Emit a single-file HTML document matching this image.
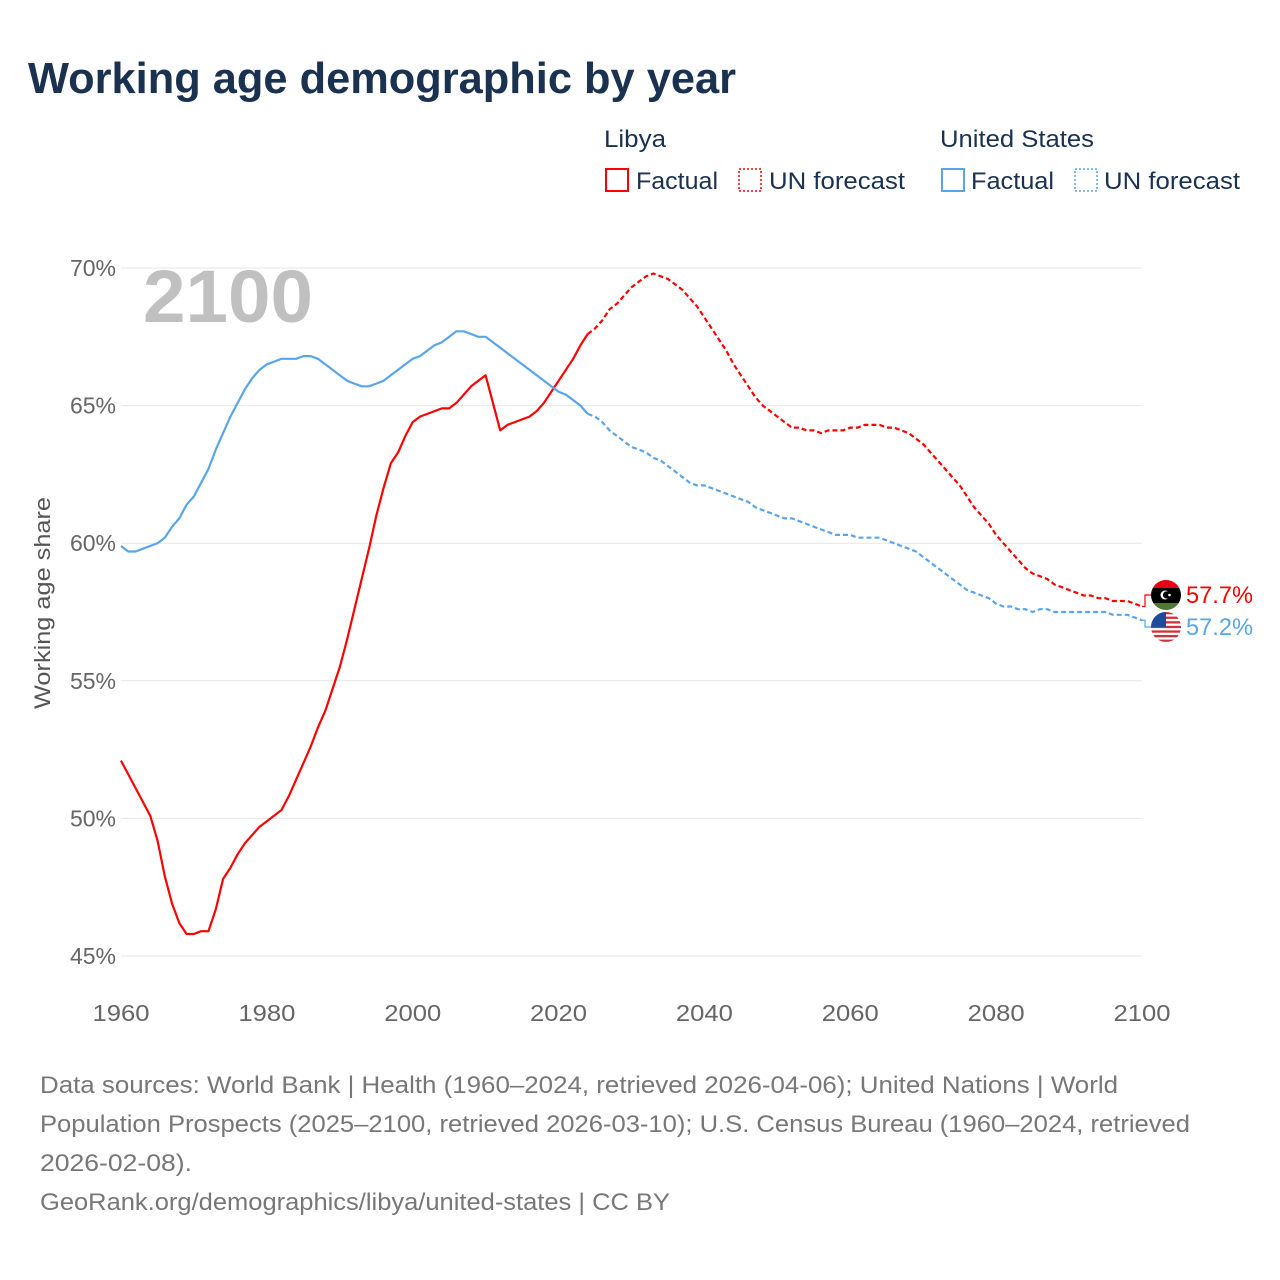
<!DOCTYPE html>
<html><head><meta charset="utf-8"><style>
body{margin:0;background:#fff;}
svg{display:block;font-family:"Liberation Sans",sans-serif;}
</style></head><body>
<svg id="chart" width="1280" height="1280" viewBox="0 0 1280 1280">
<rect width="1280" height="1280" fill="#fff"/>
<text x="28" y="93" font-size="44" font-weight="bold" fill="#1a3150" textLength="708" lengthAdjust="spacingAndGlyphs">Working age demographic by year</text>
<g font-size="24" fill="#1a3150">
<text x="604" y="147" textLength="62" lengthAdjust="spacingAndGlyphs">Libya</text>
<text x="940" y="147" textLength="154" lengthAdjust="spacingAndGlyphs">United States</text>
<g><rect x="606" y="169" width="22" height="22" fill="none" stroke="#f00" stroke-width="2"/><text x="636" y="189" textLength="82" lengthAdjust="spacingAndGlyphs">Factual</text></g>
<g><rect x="739" y="169" width="22" height="22" fill="none" stroke="#f00" stroke-width="1.5" stroke-dasharray="2,2"/><text x="769" y="189" textLength="136" lengthAdjust="spacingAndGlyphs">UN forecast</text></g>
<g><rect x="942" y="169" width="22" height="22" fill="none" stroke="#5aa5ea" stroke-width="2"/><text x="971" y="189" textLength="83" lengthAdjust="spacingAndGlyphs">Factual</text></g>
<g><rect x="1075" y="169" width="22" height="22" fill="none" stroke="#5aa5ea" stroke-width="1.5" stroke-dasharray="2,2"/><text x="1104" y="189" textLength="136" lengthAdjust="spacingAndGlyphs">UN forecast</text></g>
</g>
<g id="grid"></g>
<g id="yticks" font-size="23" fill="#666"></g>
<g id="xticks" font-size="23" fill="#666"></g>
<text x="143" y="322" font-size="74" font-weight="bold" fill="#c0c0c0" textLength="170" lengthAdjust="spacingAndGlyphs">2100</text>
<text transform="translate(50,603) rotate(-90)" text-anchor="middle" font-size="22" fill="#555" textLength="212" lengthAdjust="spacingAndGlyphs">Working age share</text>
<g id="series"></g>
<g id="footer" font-size="24" fill="#777">
<text x="40" y="1093" textLength="1078" lengthAdjust="spacingAndGlyphs">Data sources: World Bank | Health (1960–2024, retrieved 2026-04-06); United Nations | World</text>
<text x="40" y="1132" textLength="1150" lengthAdjust="spacingAndGlyphs">Population Prospects (2025–2100, retrieved 2026-03-10); U.S. Census Bureau (1960–2024, retrieved</text>
<text x="40" y="1171" textLength="152" lengthAdjust="spacingAndGlyphs">2026-02-08).</text>
<text x="40" y="1210" textLength="630" lengthAdjust="spacingAndGlyphs">GeoRank.org/demographics/libya/united-states | CC BY</text>
</g>
</svg>
<script>
const startYear = 1960;
const forecastStart = 2024;
const xTicks = [1960,1980,2000,2020,2040,2060,2080,2100];
const yTicks = [45,50,55,60,65,70];
const libyaValues = [52.1,51.6,51.1,50.6,50.1,49.2,47.9,46.9,46.2,45.8,45.8,45.9,45.9,46.7,47.8,48.2,48.7,49.1,49.4,49.7,49.9,50.1,50.3,50.8,51.4,52.0,52.6,53.3,53.9,54.7,55.5,56.5,57.6,58.7,59.8,61.0,62.0,62.9,63.3,63.9,64.4,64.6,64.7,64.8,64.9,64.9,65.1,65.4,65.7,65.9,66.1,65.1,64.1,64.3,64.4,64.5,64.6,64.8,65.1,65.5,65.9,66.3,66.7,67.2,67.6,
67.8,68.1,68.5,68.7,69.0,69.3,69.5,69.7,69.8,69.7,69.6,69.4,69.2,68.9,68.6,68.2,67.8,67.4,67.0,66.5,66.1,65.7,65.3,65.0,64.8,64.6,64.4,64.2,64.2,64.1,64.1,64.0,64.1,64.1,64.1,64.2,64.2,64.3,64.3,64.3,64.2,64.2,64.1,64.0,63.8,63.6,63.3,63.0,62.7,62.4,62.1,61.7,61.3,61.0,60.7,60.3,60.0,59.7,59.4,59.1,58.9,58.8,58.7,58.5,58.4,58.3,58.2,58.1,58.1,58.0,58.0,57.9,57.9,57.9,57.8,57.7];
const usValues = [59.9,59.7,59.7,59.8,59.9,60.0,60.2,60.6,60.9,61.4,61.7,62.2,62.7,63.4,64.0,64.6,65.1,65.6,66.0,66.3,66.5,66.6,66.7,66.7,66.7,66.8,66.8,66.7,66.5,66.3,66.1,65.9,65.8,65.7,65.7,65.8,65.9,66.1,66.3,66.5,66.7,66.8,67.0,67.2,67.3,67.5,67.7,67.7,67.6,67.5,67.5,67.3,67.1,66.9,66.7,66.5,66.3,66.1,65.9,65.7,65.5,65.4,65.2,65.0,64.7,
64.6,64.4,64.1,63.9,63.7,63.5,63.4,63.3,63.1,63.0,62.8,62.6,62.4,62.2,62.1,62.1,62.0,61.9,61.8,61.7,61.6,61.5,61.3,61.2,61.1,61.0,60.9,60.9,60.8,60.7,60.6,60.5,60.4,60.3,60.3,60.3,60.2,60.2,60.2,60.2,60.1,60.0,59.9,59.8,59.7,59.5,59.3,59.1,58.9,58.7,58.5,58.3,58.2,58.1,58.0,57.8,57.7,57.7,57.6,57.6,57.5,57.6,57.6,57.5,57.5,57.5,57.5,57.5,57.5,57.5,57.5,57.4,57.4,57.4,57.3,57.2];
const labelValues = ["57.7%","57.2%"];

const NS="http://www.w3.org/2000/svg";
const X0=121,X1=1142,Y70=268,Y45=956;
function xs(y){return X0+(y-1960)/140*(X1-X0);}
function ys(v){return Y45-(v-45)/25*(Y45-Y70);}
function mk(tag,attrs,parent){const e=document.createElementNS(NS,tag);for(const k in attrs)e.setAttribute(k,attrs[k]);parent.appendChild(e);return e;}
const grid=document.getElementById('grid'),yt=document.getElementById('yticks'),xt=document.getElementById('xticks'),ser=document.getElementById('series');
yTicks.forEach(v=>{
  const l=mk('line',{x1:X0,x2:X1,y1:ys(v),y2:ys(v),stroke:'#e6e6e6','stroke-width':1},grid);
  
  
  const t=mk('text',{x:116,y:ys(v)+8,'text-anchor':'end'},yt);
  t.textContent=v+'%';
  
  
});
xTicks.forEach(v=>{
  const t=mk('text',{x:xs(v),y:1021,'text-anchor':'middle',textLength:57,lengthAdjust:'spacingAndGlyphs'},xt);
  t.textContent=v;
  
  
});
function pts(vals,a,b){const p=[];for(let i=a;i<=b;i++)p.push(xs(startYear+i).toFixed(1)+','+ys(vals[i]).toFixed(1));return p.join(' ');}
function drawSeries(vals,color,name,labelY,label,flag){
  const fi=forecastStart-startYear,last=vals.length-1;
  const f=mk('polyline',{points:pts(vals,0,fi),fill:'none',stroke:color,'stroke-width':2.2,'stroke-linejoin':'round'},ser);
  
  
  const d=mk('polyline',{points:pts(vals,fi,last),fill:'none',stroke:color,'stroke-width':2.2,'stroke-dasharray':'5,3'},ser);
  
  
  const ey=ys(vals[last]);
  const c=mk('polyline',{points:`${X1},${ey} ${X1+3},${ey} ${X1+3},${labelY} ${X1+10},${labelY}`,fill:'none',stroke:color,'stroke-width':1.2},ser);
  
  
  const g=mk('g',{},ser);
  
  
  flag(g,1166,labelY);
  const t=mk('text',{x:1186,y:labelY+8,'font-size':24,fill:color,textLength:67,lengthAdjust:'spacingAndGlyphs'},ser);
  t.textContent=label;
  
  
}
function libyaFlag(g,cx,cy){
  const cp=mk('clipPath',{id:'clipL'},g);mk('circle',{cx,cy,r:15},cp);
  const gg=mk('g',{'clip-path':'url(#clipL)'},g);
  mk('rect',{x:cx-15,y:cy-15,width:30,height:8,fill:'#e70013'},gg);
  mk('rect',{x:cx-15,y:cy-7,width:30,height:15,fill:'#000'},gg);
  mk('rect',{x:cx-15,y:cy+8,width:30,height:8,fill:'#4d7a32'},gg);
  mk('circle',{cx:cx-1,cy,r:4.5,fill:'#fff'},gg);mk('circle',{cx:cx+0.5,cy,r:3.6,fill:'#000'},gg);
  mk('circle',{cx:cx+3.5,cy,r:1.3,fill:'#fff'},gg);
}
function usFlag(g,cx,cy){
  const cp=mk('clipPath',{id:'clipU'},g);mk('circle',{cx,cy,r:15},cp);
  const gg=mk('g',{'clip-path':'url(#clipU)'},g);
  mk('rect',{x:cx-15,y:cy-15,width:30,height:30,fill:'#fff'},gg);
  for(let i=0;i<7;i++)mk('rect',{x:cx-15,y:cy-15+i*4.6,width:30,height:2.3,fill:'#d22f3c'},gg);
  mk('rect',{x:cx-15,y:cy-15,width:15,height:15,fill:'#1e4b9c'},gg);
}
drawSeries(libyaValues,'#ff0000','libya',595,labelValues[0],libyaFlag);
drawSeries(usValues,'#5aa5ea','us',627,labelValues[1],usFlag);
</script>
</body></html>
